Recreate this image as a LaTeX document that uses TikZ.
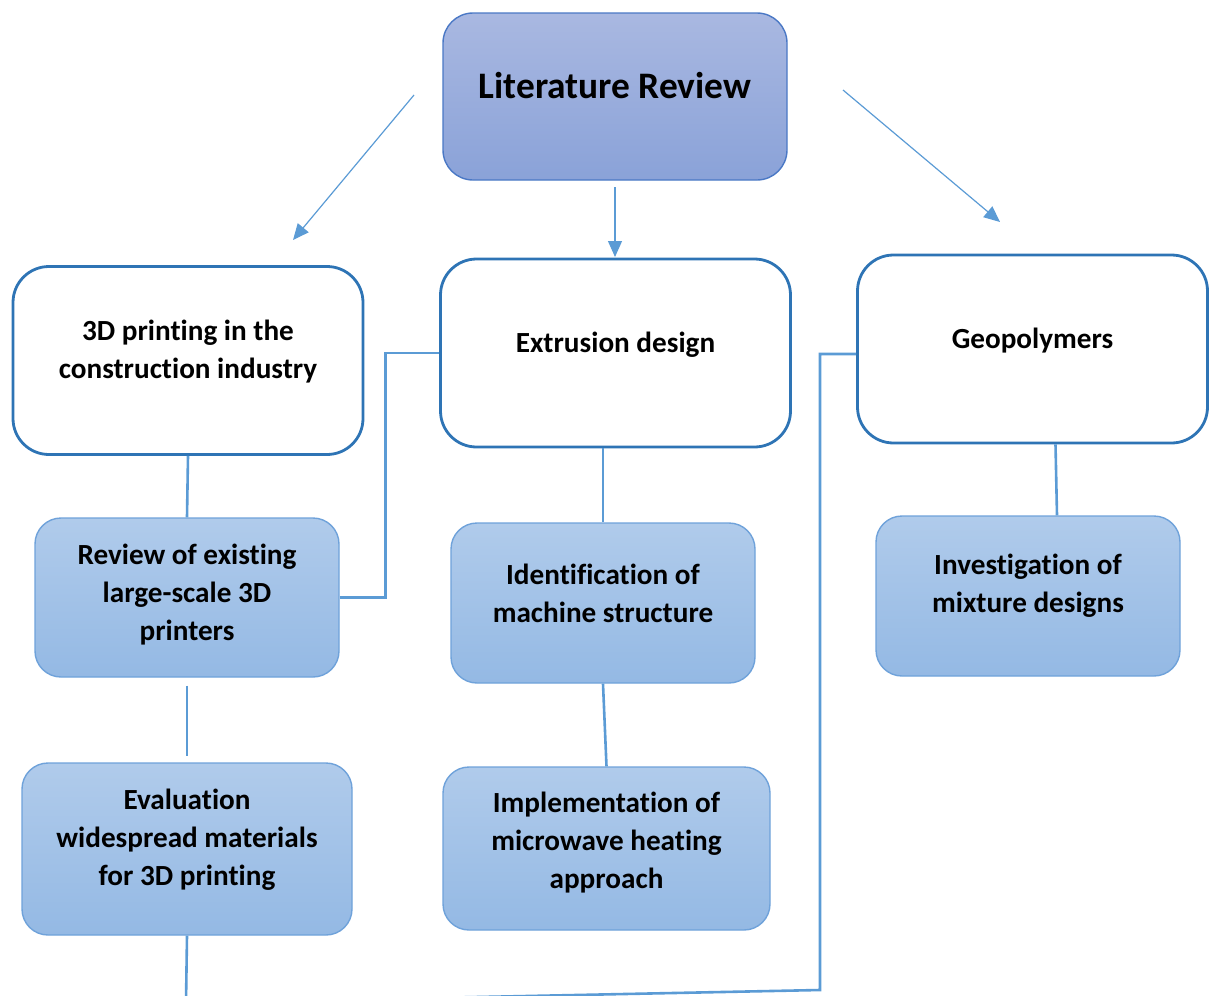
\documentclass[tikz,border=0pt]{standalone}
\usepackage{fontspec}
\setmainfont{Carlito}[Ligatures=NoCommon]
\usetikzlibrary{arrows.meta,calc}
\definecolor{linkblue}{HTML}{5B9BD5}
\definecolor{edgeblue}{HTML}{2E74B5}
\definecolor{headtop}{HTML}{A9B8E1}
\definecolor{headbot}{HTML}{8AA2D8}
\definecolor{headedge}{HTML}{4A78C5}
\definecolor{subtop}{HTML}{B0CBEB}
\definecolor{subbot}{HTML}{94B9E4}
\definecolor{subedge}{HTML}{6FA2DA}
\tikzset{
  headbox/.style={rectangle, rounded corners=15pt, draw=headedge, line width=0.7pt,
    top color=headtop, bottom color=headbot, inner sep=0pt},
  topicbox/.style={rectangle, rounded corners=18pt, draw=edgeblue, line width=1.4pt,
    fill=white, inner sep=0pt, minimum width=175pt, minimum height=94pt},
  taskbox/.style={rectangle, rounded corners=13pt, draw=subedge, line width=0.7pt,
    top color=subtop, bottom color=subbot, inner sep=0pt},
  caption/.style={align=center, font=\bfseries\fontsize{14.6}{19}\selectfont, inner sep=0pt},
  link/.style={draw=linkblue, line width=1.3pt},
  pointer/.style={draw=linkblue, line width=0.6pt, -{Triangle[length=8pt,width=7pt]}, linkblue}
}
\begin{document}
\begin{tikzpicture}[x=0.5pt, y=-0.5pt]
\useasboundingbox (0,0) rectangle (1216,996);
\clip (0,0) rectangle (1216,996);

% boxes
\node[headbox, minimum width=172pt, minimum height=83.5pt] (lit) at (615,96.5) {};
\node[topicbox] (prn) at (188,360.5) {};
\node[topicbox] (ext) at (615.5,353) {};
\node[topicbox] (geo) at (1032.5,349) {};
\node[taskbox, minimum width=152pt, minimum height=79.5pt] (rev) at (187,597.5) {};
\node[taskbox, minimum width=152pt, minimum height=80pt] (idf) at (603,603) {};
\node[taskbox, minimum width=152pt, minimum height=80pt] (inv) at (1028,596) {};
\node[taskbox, minimum width=165pt, minimum height=86pt] (eva) at (187,849) {};
\node[taskbox, minimum width=163.5pt, minimum height=81.5pt] (imp) at (606.5,848.5) {};

% texts
\node[caption, font=\bfseries\fontsize{18.7}{19}\selectfont] (tlit) at (615,86) {Literature Review};
\node[caption] (tprn) at (188,352) {3D printing in the\\construction industry};
\node[caption] (text) at (615.5,345) {Extrusion design};
\node[caption] (tgeo) at (1032.5,341) {Geopolymers};
\node[caption] (trev) at (187,595) {Review of existing\\large-scale 3D\\printers};
\node[caption] (tidf) at (603,593) {Identification of\\machine structure};
\node[caption] (tinv) at (1028,586) {Investigation of\\mixture designs};
\node[caption] (teva) at (187,840) {Evaluation\\widespread materials\\for 3D printing};
\node[caption] (timp) at (606.5,843) {Implementation of\\microwave heating\\approach};

% arrows from the heading
\coordinate (a1s) at (414,95);  \coordinate (a1e) at (293,240);
\coordinate (a2s) at (615,187); \coordinate (a2e) at (615,257);
\coordinate (a3s) at (843,90);  \coordinate (a3e) at (1000,222);
\draw[pointer] (a1s) -- (a1e);
\draw[pointer] (a2s) -- (a2e);
\draw[pointer] (a3s) -- (a3e);

% connectors between boxes
\draw[link] (prn.south) -- (rev.north);
\draw[link] (rev.east) -- ++(46,0) |- (ext.west);
\draw[link] (ext.south -| idf.north) -- (idf.north);
\draw[link] (idf.south) -- (imp.north);
\draw[link] ($(geo.south)+(23,0)$) -- ($(inv.north)+(29,0)$);
\draw[link, shorten <=4pt, shorten >=3pt] (rev.south) -- (eva.north);
\coordinate (low) at (186,1003);
\coordinate (turn) at (820,990);
\draw[link] (eva.south) -- (low) -- (turn) |- ($(geo.west)+(0,5)$);
\end{tikzpicture}
\end{document}
